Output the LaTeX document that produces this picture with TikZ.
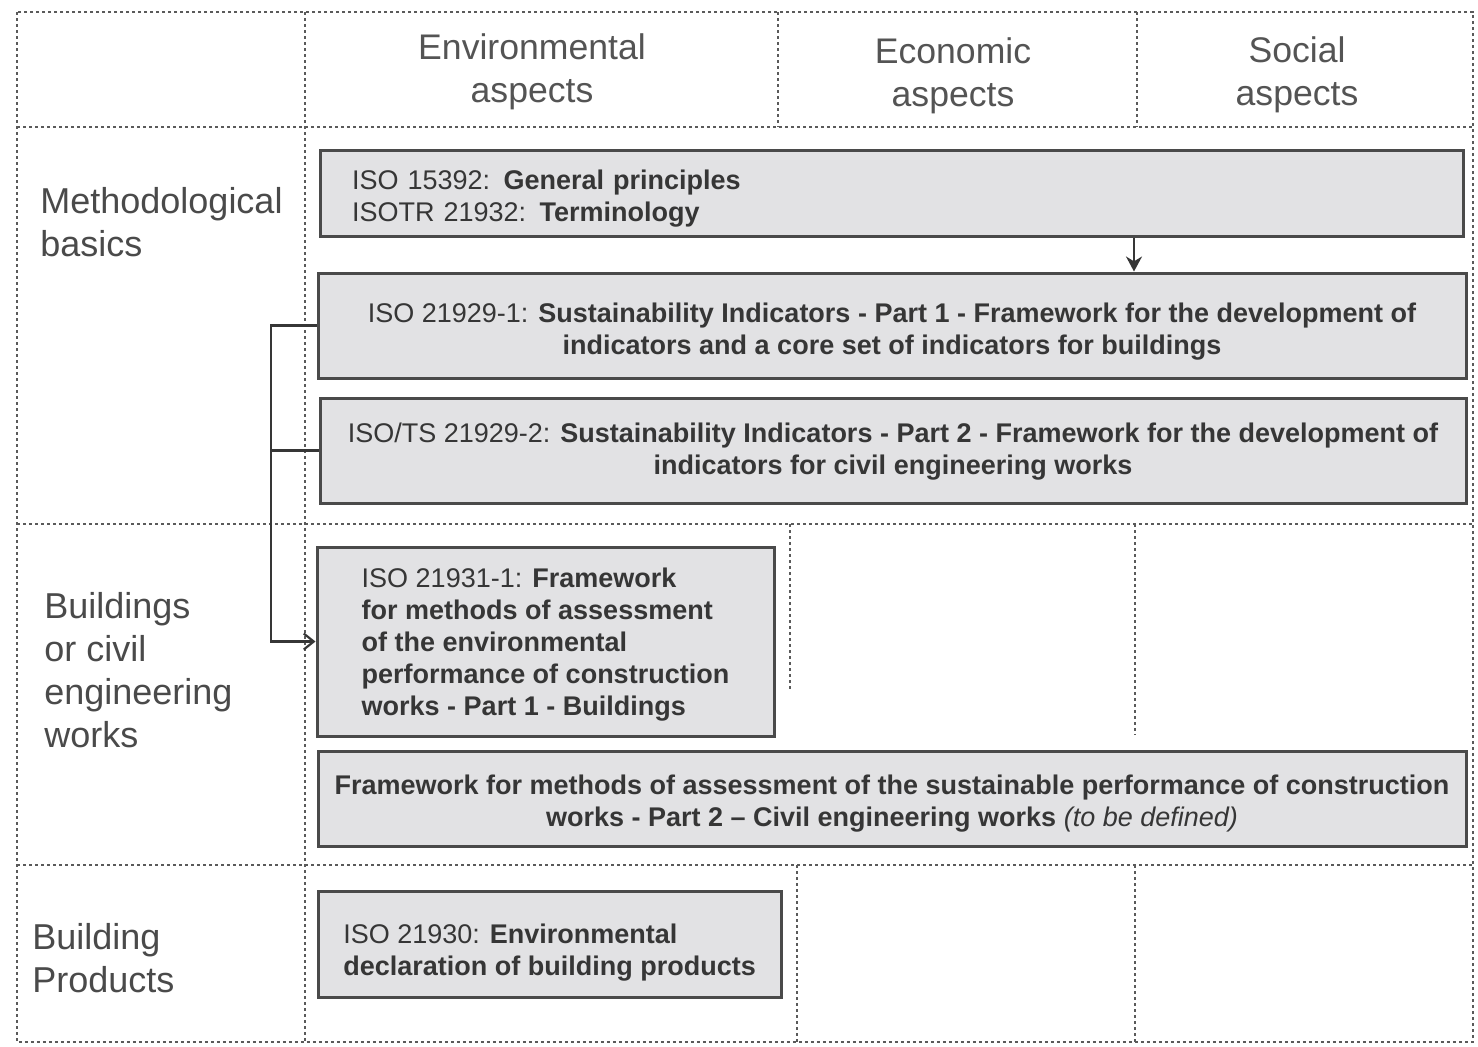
\documentclass[tikz,border=0pt]{standalone}
\usepackage{fontspec}
\setmainfont{Liberation Sans}
\usetikzlibrary{arrows.meta}
\definecolor{boxgray}{HTML}{E2E2E4}
\definecolor{edgegray}{HTML}{4A4A4A}
\definecolor{txtgray}{HTML}{363636}
\definecolor{dotgray}{HTML}{5A5A5A}
\newcommand{\lift}[1]{\rule{0pt}{#1}}
\begin{document}
\begin{tikzpicture}[x=0.5pt,y=-0.5pt,
    grid/.style={dotgray, line width=1.3pt, dash pattern=on 1.3pt off 1.7pt},
    isobox/.style={draw=edgegray, fill=boxgray, line width=1.5pt, text=txtgray,
      font=\fontsize{13.5}{16}\selectfont, inner sep=0pt},
    aspect/.style={text=txtgray!85, font=\fontsize{17.8}{21.5}\selectfont, align=center},
    level/.style={text=txtgray!90, font=\fontsize{18}{21.5}\selectfont, align=left,
      anchor=west, inner xsep=0pt},
    link/.style={txtgray, line width=1.1pt}]
  \useasboundingbox (0,0) rectangle (1478,1046);

  \draw[grid] (17,12) rectangle (1473,1042);
  \draw[grid] (17,127) -- (1473,127);
  \draw[grid] (17,524) -- (1473,524);
  \draw[grid] (17,865) -- (1473,865);
  \draw[grid] (305,12) -- (305,1042);
  \draw[grid] (778,12) -- (778,127);
  \draw[grid] (1137,12) -- (1137,127);
  \draw[grid] (790,524) -- (790,690);
  \draw[grid] (1135,524) -- (1135,735);
  \draw[grid] (797,865) -- (797,1042);
  \draw[grid] (1135,865) -- (1135,1042);

  \node[aspect] (env) at (532,72) {Environmental\\aspects};
  \node[aspect] (eco) at (953,76) {Economic\\aspects};
  \node[aspect] (soc) at (1297,75) {Social\\aspects};

  \node[level] (meth) at (40,222) {Methodological\\basics};
  \node[level] (build) at (44,670) {Buildings\\or civil\\engineering\\works};
  \node[level] (prod) at (32,958) {Building\\Products};

  \node[isobox, minimum width=571.5pt, minimum height=43pt, inner xsep=16pt,
    text width=539.5pt, align=left] (gen) at (891.5,193)
    {\lift{14.9pt}ISO 15392: \textbf{General principles}\\ISOTR 21932: \textbf{Terminology}};
  \node[isobox, minimum width=574pt, minimum height=52.5pt, align=center] (ind1) at (892,325.5)
    {\lift{15.9pt}ISO 21929-1: \textbf{Sustainability Indicators - Part 1 - Framework for the development of}\\
     \textbf{indicators and a core set of indicators for buildings}};
  \node[isobox, minimum width=573pt, minimum height=52.5pt, align=center] (ind2) at (893,450.5)
    {\lift{10.8pt}ISO/TS 21929-2: \textbf{Sustainability Indicators - Part 2 - Framework for the development of}\\
     \textbf{indicators for civil engineering works}};
  \node[isobox, minimum width=228.5pt, minimum height=94.5pt, align=left] (asm1) at (545.5,641.5)
    {\lift{12.4pt}ISO 21931-1: \textbf{Framework}\\\textbf{for methods of assessment}\\\textbf{of the environmental}\\
     \textbf{performance of construction}\\\textbf{works - Part 1 - Buildings}};
  \node[isobox, minimum width=574pt, minimum height=47.5pt, align=center] (asm2) at (892,798.5)
    {\lift{14.4pt}\textbf{Framework for methods of assessment of the sustainable performance of construction}\\
     \textbf{works - Part 2 – Civil engineering works} \textit{(to be defined)}};
  \node[isobox, minimum width=231.5pt, minimum height=53pt, align=left] (epd) at (549.5,944)
    {\lift{17.9pt}ISO 21930: \textbf{Environmental}\\\textbf{declaration of building products}};

  \coordinate (drop) at (1134,0);
  \coordinate (rail) at (271,0);
  \draw[link, -{Stealth[length=7.5pt, width=8pt]}] (gen.south -| drop) -- (ind1.north -| drop);
  \draw[link, -{Straight Barb[length=5pt, width=8pt]}] (ind1.west) -- (ind1.west -| rail) |- (asm1.west);
  \draw[link] (ind2.west) -- (ind2.west -| rail);
\end{tikzpicture}
\end{document}
